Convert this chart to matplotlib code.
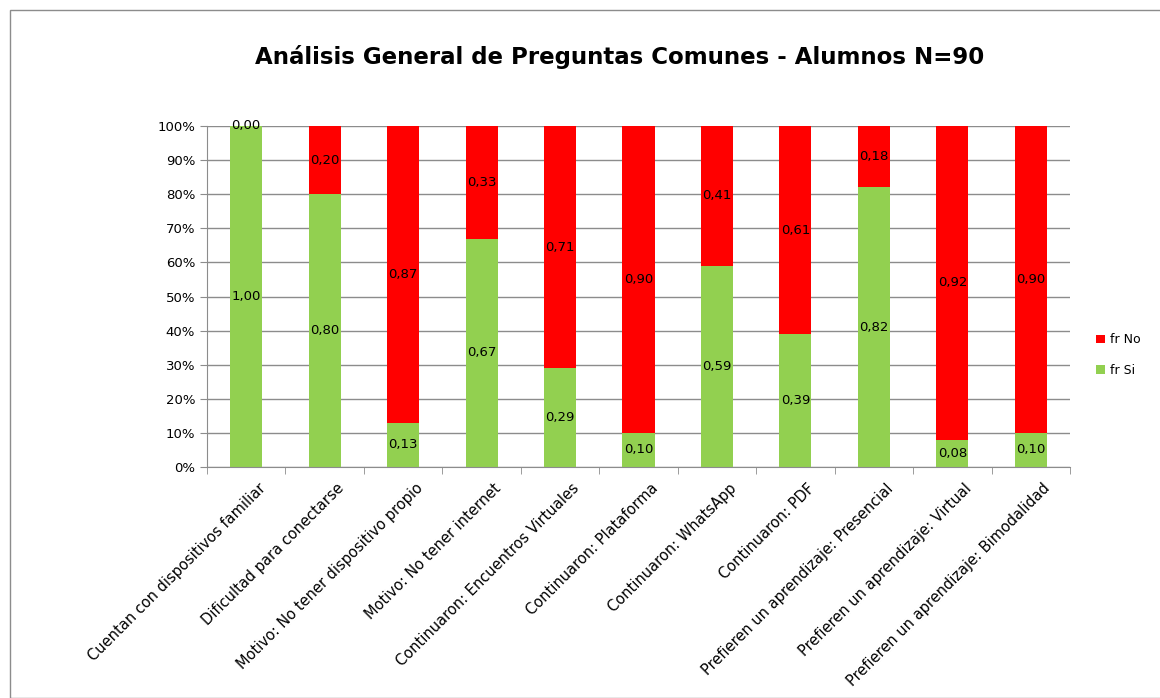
import matplotlib.pyplot as plt
import numpy as np
from matplotlib.patches import Rectangle

categories = [
    'Cuentan con dispositivos familiar',
    'Dificultad para conectarse',
    'Motivo: No tener dispositivo propio',
    'Motivo: No tener internet',
    'Continuaron: Encuentros Virtuales',
    'Continuaron: Plataforma',
    'Continuaron: WhatsApp',
    'Continuaron: PDF',
    'Prefieren un aprendizaje: Presencial',
    'Prefieren un aprendizaje: Virtual',
    'Prefieren un aprendizaje: Bimodalidad',
]
fr_si = [1.00, 0.80, 0.13, 0.67, 0.29, 0.10, 0.59, 0.39, 0.82, 0.08, 0.10]
fr_no = [0.00, 0.20, 0.87, 0.33, 0.71, 0.90, 0.41, 0.61, 0.18, 0.92, 0.90]
y_ticks = [0, 0.1, 0.2, 0.3, 0.4, 0.5, 0.6, 0.7, 0.8, 0.9, 1.0]

green = '#92D050'
red = '#FF0000'

fig = plt.figure(figsize=(11.6, 6.98), dpi=100)
fig.patches.append(Rectangle((10 / 1160, 0), 1, 1 - 10 / 698, transform=fig.transFigure,
                             fill=False, edgecolor='#8c8c8c', linewidth=1))
ax = fig.add_axes([207 / 1160, 1 - 467 / 698, 863 / 1160, 341 / 698])

x = np.arange(len(categories))
si = np.array(fr_si)
no = np.array(fr_no)
ax.bar(x, si, width=0.41, color=green, label='fr Si', zorder=2)
ax.bar(x, no, width=0.41, bottom=si, color=red, label='fr No', zorder=2)

for i in range(len(x)):
    ax.text(x[i], si[i] / 2, f'{si[i]:.2f}'.replace('.', ','), ha='center', va='center',
            fontsize=9.5, zorder=3)
    ax.text(x[i], si[i] + no[i] / 2, f'{no[i]:.2f}'.replace('.', ','), ha='center', va='center',
            fontsize=9.5, zorder=3)

ax.set_xlim(-0.5, len(x) - 0.5)
ax.set_ylim(0, 1)
ax.set_yticks(y_ticks)
ax.set_yticklabels([f'{int(round(t * 100))}%' for t in y_ticks], fontsize=9.5)
ax.yaxis.grid(True, color='#8c8c8c', linewidth=1, zorder=0)
ax.set_axisbelow(True)

ax.set_xticks(x + 0.15)
ax.set_xticklabels(categories, rotation=45, ha='right', rotation_mode='anchor', fontsize=10.5)
ax.tick_params(axis='x', length=0, pad=10)
ax.set_xticks(np.arange(len(x) + 1) - 0.5, minor=True)
ax.tick_params(axis='x', which='minor', length=5, color='#8c8c8c')
ax.tick_params(axis='y', length=5, color='#8c8c8c', direction='out')

for side in ['top', 'right']:
    ax.spines[side].set_visible(False)
for side in ['left', 'bottom']:
    ax.spines[side].set_color('#8c8c8c')

fig.text(620 / 1160, 1 - 57 / 698, 'Análisis General de Preguntas Comunes - Alumnos N=90',
         ha='center', va='center', fontsize=16.5, fontweight='bold')

handles, labels = ax.get_legend_handles_labels()
fig.legend(handles[::-1], labels[::-1], loc='center left', bbox_to_anchor=(1085 / 1160, 1 - 355 / 698),
           frameon=False, fontsize=9, handlelength=0.7, handleheight=0.7, handletextpad=0.4,
           labelspacing=1.4)

fig.savefig('out.png', dpi=100)
